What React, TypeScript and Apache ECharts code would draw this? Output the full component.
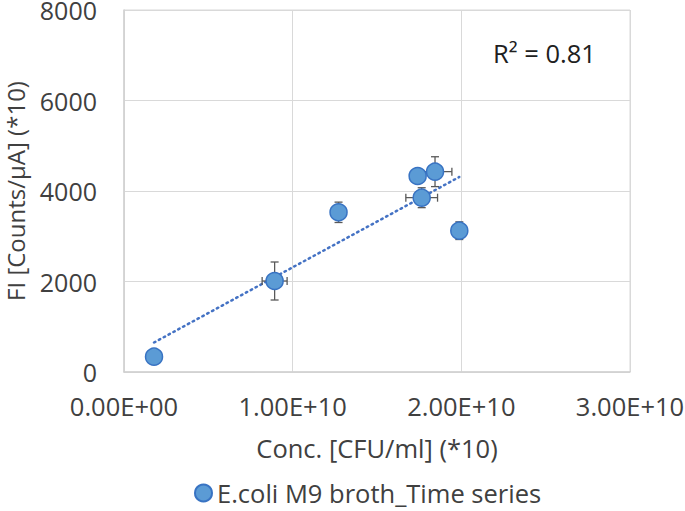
import React, { useEffect, useRef } from "react";
import * as echarts from "echarts";

const seriesName = "E.coli M9 broth_Time series";
const concValues = [0.178e10, 0.893e10, 1.272e10, 1.741e10, 1.844e10, 1.765e10, 1.988e10];
const fiValues = [338, 2011, 3529, 4331, 4427, 3852, 3123];
const concErr = [0, 0.074e10, 0, 0, 0.1e10, 0.094e10, 0];
const fiErr = [0, 420, 225, 0, 330, 220, 195];
const rSquaredLabel = "R² = 0.81";
const xTicks = { min: 0, max: 3e10, interval: 1e10 };
const yTicks = { min: 0, max: 8000, interval: 2000 };
const xName = "Conc. [CFU/ml] (*10)";
const yName = "FI [Counts/µA] (*10)";

function fitLine(xs: number[], ys: number[]) {
  const n = xs.length;
  const mx = xs.reduce((a, b) => a + b, 0) / n;
  const my = ys.reduce((a, b) => a + b, 0) / n;
  let sxy = 0, sxx = 0;
  for (let i = 0; i < n; i++) {
    sxy += (xs[i] - mx) * (ys[i] - my);
    sxx += (xs[i] - mx) * (xs[i] - mx);
  }
  const slope = sxy / sxx;
  const icpt = my - slope * mx;
  const x0 = Math.min(...xs), x1 = Math.max(...xs);
  return [[x0, icpt + slope * x0], [x1, icpt + slope * x1]];
}

function fmtSci(v: number) {
  const s = v.toExponential(2).toUpperCase();
  const m = s.match(/^(-?[\d.]+)E([+-])(\d+)$/);
  if (!m) return s;
  return `${m[1]}E${m[2]}${m[3].padStart(2, "0")}`;
}

const FONT = "Open Sans";
const TXT = "#404040";

export default function App() {
  const ref = useRef<HTMLDivElement>(null);
  useEffect(() => {
    if (!ref.current) return;
    const chart = echarts.init(ref.current, undefined, { renderer: "svg" });
    const pts = concValues.map((x, i) => [x, fiValues[i]]);
    const errData = concValues.map((x, i) => [x, fiValues[i], concErr[i], fiErr[i]]);
    const trend = fitLine(concValues, fiValues);
    chart.setOption({
      animation: false,
      backgroundColor: "#fff",
      grid: { left: 124, right: 55, top: 10, bottom: 139, outerBoundsMode: "none", containLabel: false },
      xAxis: {
        type: "value",
        min: xTicks.min,
        max: xTicks.max,
        interval: xTicks.interval,
        name: xName,
        nameLocation: "middle",
        nameGap: 63,
        nameTextStyle: { fontFamily: FONT, fontSize: 25.5, color: TXT },
        axisLine: { show: true, lineStyle: { color: "#d0d0d0", width: 1.5 } },
        axisTick: { show: false },
        axisLabel: { fontFamily: FONT, fontSize: 25.5, color: TXT, margin: 21, formatter: (v: number) => fmtSci(v) },
        splitLine: { show: true, lineStyle: { color: "#d9d9d9", width: 1 } },
      },
      yAxis: {
        type: "value",
        min: yTicks.min,
        max: yTicks.max,
        interval: yTicks.interval,
        name: yName,
        nameLocation: "middle",
        nameGap: 97,
        nameRotate: 90,
        nameTextStyle: { fontFamily: FONT, fontSize: 24, color: TXT },
        axisLine: { show: true, lineStyle: { color: "#d0d0d0", width: 1.5 } },
        axisTick: { show: false },
        axisLabel: { fontFamily: FONT, fontSize: 25, color: TXT, margin: 27, formatter: (v: number) => String(v) },
        splitLine: { show: true, lineStyle: { color: "#d9d9d9", width: 1 } },
      },
      legend: {
        data: [{ name: seriesName, icon: "circle" }],
        bottom: 0,
        left: 189,
        itemWidth: 17,
        itemHeight: 17,
        textStyle: { fontFamily: FONT, fontSize: 25.5, color: TXT },
      },
      graphic: [
        {
          type: "text",
          left: 493,
          top: 40,
          style: { text: rSquaredLabel, fontFamily: FONT, fontSize: 25.5, fill: "#202020" },
        },
        {
          type: "rect",
          shape: { x: 124, y: 10, width: 506, height: 362 },
          style: { fill: "none", stroke: "#d9d9d9", lineWidth: 1 },
          silent: true,
          z: -1,
        },
      ],
      series: [
        {
          type: "line",
          data: trend,
          showSymbol: false,
          symbol: "none",
          lineStyle: { color: "#4472C4", width: 2.5, type: [1.5, 4], cap: "round" },
          z: 1,
          silent: true,
        },
        {
          type: "custom",
          data: errData,
          encode: { x: 0, y: 1 },
          z: 2,
          silent: true,
          renderItem: (params: any, api: any) => {
            const x = api.value(0), y = api.value(1), xe = api.value(2), ye = api.value(3);
            const st = { stroke: "#595959", lineWidth: 1.3 };
            const cap = 4;
            const kids: any[] = [];
            if (ye > 0) {
              const a = api.coord([x, y + ye]);
              const b = api.coord([x, y - ye]);
              kids.push({ type: "line", shape: { x1: a[0], y1: a[1], x2: b[0], y2: b[1] }, style: st });
              kids.push({ type: "line", shape: { x1: a[0] - cap, y1: a[1], x2: a[0] + cap, y2: a[1] }, style: st });
              kids.push({ type: "line", shape: { x1: b[0] - cap, y1: b[1], x2: b[0] + cap, y2: b[1] }, style: st });
            }
            if (xe > 0) {
              const a = api.coord([x - xe, y]);
              const b = api.coord([x + xe, y]);
              kids.push({ type: "line", shape: { x1: a[0], y1: a[1], x2: b[0], y2: b[1] }, style: st });
              kids.push({ type: "line", shape: { x1: a[0], y1: a[1] - cap, x2: a[0], y2: a[1] + cap }, style: st });
              kids.push({ type: "line", shape: { x1: b[0], y1: b[1] - cap, x2: b[0], y2: b[1] + cap }, style: st });
            }
            return { type: "group", children: kids };
          },
        },
        {
          name: seriesName,
          type: "scatter",
          data: pts,
          symbol: "circle",
          symbolSize: 17,
          itemStyle: { color: "#5B9BD5", borderColor: "#3873C3", borderWidth: 1.5, opacity: 1 },
          z: 3,
        },
      ],
    });
    return () => chart.dispose();
  }, []);
  return <div ref={ref} style={{ width: 685, height: 511, position: "absolute", left: 0, top: 0 }} />;
}
